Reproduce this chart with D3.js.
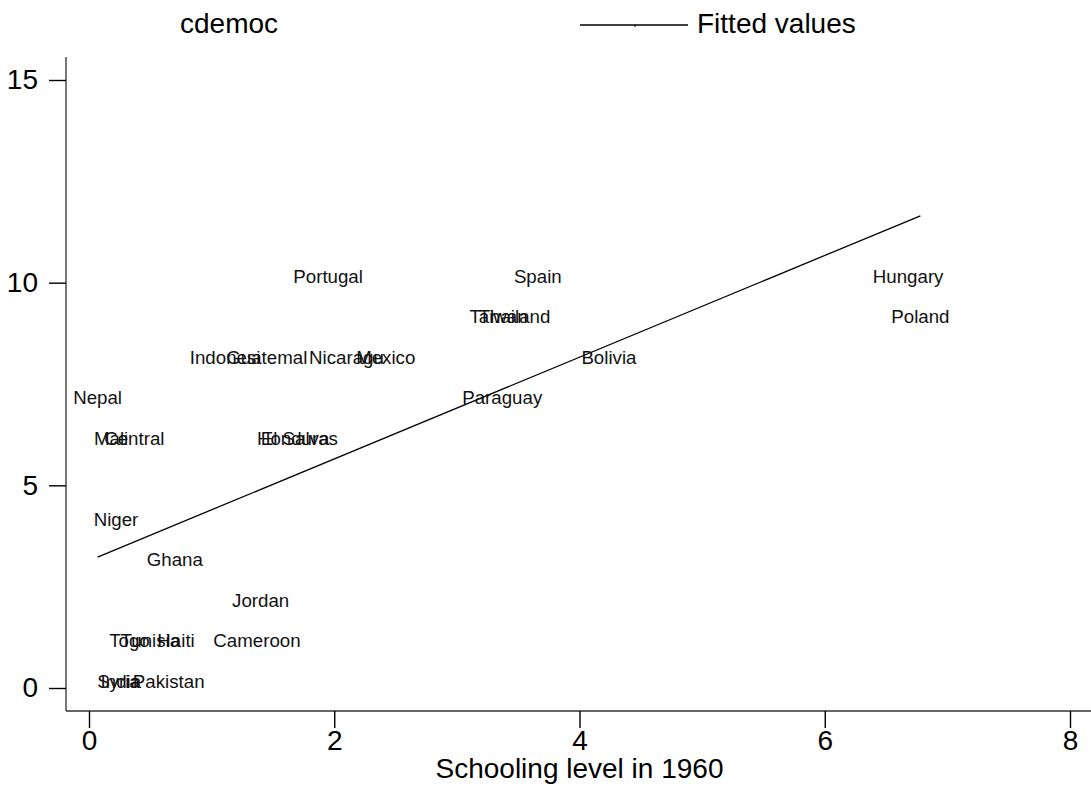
<!DOCTYPE html>
<html>
<head>
<meta charset="utf-8">
<script src="https://cdn.jsdelivr.net/npm/d3@7"></script>
<style>
  body { margin: 0; background: #fff; }
  text { font-family: "Liberation Sans", Arial, Helvetica, sans-serif; }
</style>
</head>
<body>
<div id="chart"></div>
<script>
// country labels (truncated to 8 chars like the original)
const countries = ["Portugal", "Spain", "Hungary",
  "Taiwan", "Thailand", "Poland",
  "Indonesi", "Guatemal", "Nicaragu", "Mexico", "Bolivia",
  "Nepal", "Paraguay",
  "Mali", "Central", "Honduras", "El Salva",
  "Niger", "Ghana", "Jordan",
  "Togo", "Tunisia", "Haiti", "Cameroon",
  "Syria", "India", "Pakistan"];
const schooling = [1.95, 3.66, 6.68,
  3.34, 3.47, 6.78,
  1.11, 1.45, 2.10, 2.42, 4.24,
  0.07, 3.37,
  0.18, 0.37, 1.70, 1.68,
  0.22, 0.70, 1.40,
  0.33, 0.50, 0.71, 1.37,
  0.24, 0.26, 0.65];
const cdemoc = [10, 10, 10,
  9, 9, 9,
  8, 8, 8, 8, 8,
  7, 7,
  6, 6, 6, 6,
  4, 3, 2,
  1, 1, 1, 1,
  0, 0, 0];

// fitted values at the ends of the schooling range
const fitSchooling = [0.07, 6.78];
const fitValues = [3.23, 11.65];

const xTicks = [0, 2, 4, 6, 8];
const yTicks = [0, 5, 10, 15];

const W = 1091, H = 785;
const plot = {left: 66, right: 1091, top: 57, bottom: 711};

const svg = d3.select("#chart").append("svg")
    .attr("width", W)
    .attr("height", H);

const x = d3.scaleLinear().domain([0, 8]).range([89, 1070]);
const y = d3.scaleLinear().domain([0, 15]).range([688, 80]);

// axis lines
svg.append("line")
    .attr("x1", plot.left).attr("x2", plot.left)
    .attr("y1", plot.top).attr("y2", plot.bottom)
    .attr("stroke", "#555").attr("stroke-width", 1.6);
svg.append("line")
    .attr("x1", plot.left).attr("x2", plot.right)
    .attr("y1", plot.bottom).attr("y2", plot.bottom)
    .attr("stroke", "#333").attr("stroke-width", 1.4);

// y axis
const gy = svg.append("g")
    .attr("transform", "translate(" + plot.left + ",0)")
    .call(d3.axisLeft(y).tickValues(yTicks).tickSize(17).tickPadding(11));
gy.select(".domain").remove();

// x axis
const gx = svg.append("g")
    .attr("transform", "translate(0," + plot.bottom + ")")
    .call(d3.axisBottom(x).tickValues(xTicks).tickSize(17).tickPadding(2));
gx.select(".domain").remove();

svg.selectAll(".tick line").attr("stroke", "#000").attr("stroke-width", 1.4);
svg.selectAll(".tick text")
    .attr("font-size", 28)
    .attr("font-family", "Liberation Sans, Arial, sans-serif")
    .attr("fill", "#000");

// x axis title
svg.append("text")
    .attr("x", (x(0) + x(8)) / 2)
    .attr("y", 778)
    .attr("text-anchor", "middle")
    .attr("font-size", 28)
    .text("Schooling level in 1960");

// fitted line
svg.append("path")
    .datum(d3.zip(fitSchooling, fitValues))
    .attr("fill", "none")
    .attr("stroke", "#000")
    .attr("stroke-width", 1.3)
    .attr("d", d3.line().x(d => x(d[0])).y(d => y(d[1])));

// marker labels, centred on each point
svg.append("g").selectAll("text")
    .data(countries)
    .enter().append("text")
    .attr("x", (d, i) => x(schooling[i]))
    .attr("y", (d, i) => y(cdemoc[i]))
    .attr("text-anchor", "middle")
    .attr("font-size", 18.7)
    .attr("fill", "#111")
    .style("white-space", "pre")
    .text(d => d);

// legend
svg.append("text")
    .attr("x", 180).attr("y", 33)
    .attr("font-size", 28)
    .text("cdemoc");
svg.append("line")
    .attr("x1", 580).attr("x2", 688)
    .attr("y1", 25).attr("y2", 25)
    .attr("stroke", "#000").attr("stroke-width", 1.3);
svg.append("line")
    .attr("x1", 635).attr("x2", 635)
    .attr("y1", 25).attr("y2", 27)
    .attr("stroke", "#000").attr("stroke-width", 1);
svg.append("text")
    .attr("x", 697).attr("y", 33)
    .attr("font-size", 28)
    .text("Fitted values");
</script>
</body>
</html>
